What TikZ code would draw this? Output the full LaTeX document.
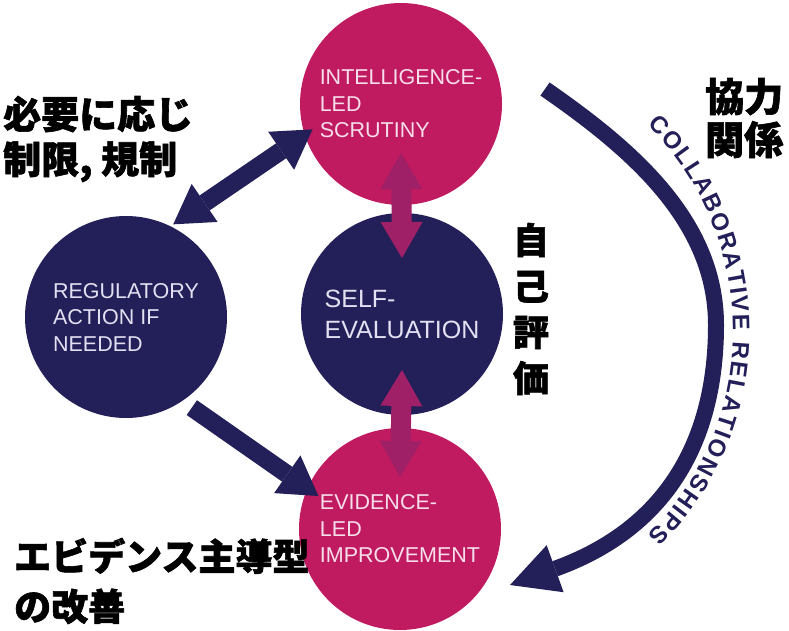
\documentclass[tikz,border=0pt]{standalone}
\usepackage{fontspec}
\setmainfont{Liberation Sans}
\newfontfamily\jpfont{Noto Sans CJK JP}[BoldFeatures={FakeBold=1.6}]
\usetikzlibrary{arrows.meta,calc,decorations.text}

\definecolor{navyb}{RGB}{35,31,88}
\definecolor{magentab}{RGB}{192,26,96}
\definecolor{plumb}{RGB}{160,32,104}
\definecolor{pinktext}{RGB}{246,222,234}
\definecolor{navytext}{RGB}{226,224,242}
\newcommand\bandfont{\fontsize{24}{24}\selectfont\bfseries}

\tikzset{
	bubble/.style={circle, minimum size=202pt, inner sep=0pt, align=left, font=\fontsize{21.5}{26.5}\selectfont},
	pinkbubble/.style={bubble, fill=magentab, text=pinktext},
	navybubble/.style={bubble, fill=navyb, text=navytext},
	jtext/.style 2 args={inner sep=0pt, align=left, font=\jpfont\bfseries\fontsize{#1}{#2}\selectfont},
	navyarrow/.style={draw=navyb, line width=18pt, >={Triangle[length=38pt,width=46pt,line width=0pt]}},
	plumarrow/.style={draw=plumb, line width=20pt, >={Triangle[length=36pt,width=42pt,line width=0pt]}},
	bandarrow/.style={draw=navyb, line width=16pt, -{Triangle[length=48pt,width=50pt,line width=0pt]}}
}

\begin{document}
\begin{tikzpicture}[x=1pt,y=-1pt]
	%%%%% START %%%%%
	\path[fill=white, use as bounding box] (0,0) rectangle (789,630);

	% the four circles
	\node[pinkbubble] (scrutiny) at (401,104) {INTELLIGENCE-\\LED\\SCRUTINY};
	\node[navybubble, font=\fontsize{25}{31}\selectfont] (selfeval) at (402,314) {SELF-\\EVALUATION};
	\node[navybubble] (regaction) at (126,317) {REGULATORY\\ACTION IF\\NEEDED};
	\node[pinkbubble] (improve) at (400,529) {EVIDENCE-\\LED\\IMPROVEMENT};

	% straight arrows
	\draw[navyarrow, <->] ($(regaction)+(63:104pt)$) -- ($(scrutiny)+(196:92pt)$);
	\draw[navyarrow, ->] ($(regaction)+(-54:112pt)$) -- ($(improve)+(158:88pt)$);
	\draw[plumarrow, <->] ($(scrutiny)+(0pt,-49pt)$) -- ($(selfeval)+(0pt,56pt)$);
	\draw[plumarrow, <->] ($(selfeval)+(0pt,-56pt)$) -- ($(improve)+(0pt,52pt)$);

	% big curved arrow
	\coordinate (arcstart) at (545,89);
	\coordinate (arcturn) at (716,325);
	\coordinate (arcend) at (510,585);
	\draw[bandarrow] (arcstart) .. controls (630,148) and (716,220) .. (arcturn) .. controls (716,425) and (679,524) .. (arcend);

	\coordinate (txtstart) at (647,125);
	\coordinate (txtend) at (648,535);
	\path[decorate, decoration={text along path, text={|\bandfont|COLLABORATIVE RELATIONSHIPS}, text align={fit to path}, text color=navyb}] (txtstart) .. controls (761,237) and (762,422) .. (txtend);

	% japanese labels
	\node[jtext={38}{45}, anchor=west] (limits) at (3,139) {必要に応じ\\制限, 規制};
	\node[jtext={39}{43}, anchor=west] (collab) at (705,118) {協力\\関係};
	\node[jtext={36}{46}, align=center] (selfjp) at (531,309) {自\\己\\評\\価};
	\node[jtext={37}{50}, anchor=west] (evidence) at (14,581) {エビデンス主導型\\の改善};

	%%%%% END %%%%%
\end{tikzpicture}
\end{document}
